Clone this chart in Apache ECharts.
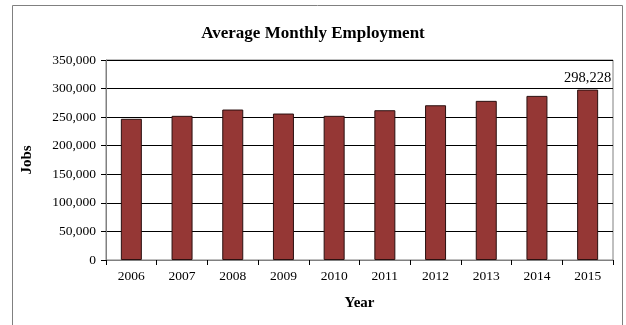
<!DOCTYPE html>
<html>
<head>
<meta charset="utf-8">
<script src="https://cdn.jsdelivr.net/npm/echarts@6/dist/echarts.min.js"></script>
<style>
  html, body { margin: 0; padding: 0; background: #fff; }
  #chart { width: 626px; height: 325px; }
</style>
</head>
<body>
<div id="chart"></div>
<script>
  // chart data
  const years = ['2006', '2007', '2008', '2009', '2010', '2011', '2012', '2013', '2014', '2015']
  const jobs = [247100, 252300, 263300, 256300, 252300, 262100, 270800, 278500, 287200, 298228]
  const yTicks = [0, 50000, 100000, 150000, 200000, 250000, 300000, 350000]

  const serif = '"Liberation Serif", "DejaVu Serif", serif'
  const fmt = v => v.toLocaleString('en-US')

  const chart = echarts.init(document.getElementById('chart'))
  chart.setOption({
    animation: false,
    textStyle: { fontFamily: serif },
    title: {
      text: 'Average Monthly Employment',
      left: 'center',
      top: 20,
      textStyle: { fontFamily: serif, fontSize: 17, fontWeight: 'bold', color: '#000' }
    },
    graphic: [{
      type: 'rect',
      shape: { x: 12.5, y: 5.5, width: 610, height: 330 },
      style: { fill: 'none', stroke: '#808080', lineWidth: 1 },
      z: -1
    }],
    grid: { left: 106, right: 13, top: 60, bottom: 65, show: true, borderColor: '#808080', borderWidth: 1 },
    xAxis: {
      type: 'category',
      data: years,
      name: 'Year',
      nameLocation: 'middle',
      nameGap: 36,
      nameTextStyle: { fontFamily: serif, fontSize: 15, fontWeight: 'bold', color: '#000' },
      axisLine: { lineStyle: { color: '#808080' } },
      axisTick: { show: true, length: 5, lineStyle: { color: '#000' } },
      axisLabel: { fontFamily: serif, fontSize: 13.5, color: '#000', margin: 9 }
    },
    yAxis: {
      type: 'value',
      min: yTicks[0],
      max: yTicks[yTicks.length - 1],
      interval: 50000,
      name: 'Jobs',
      nameLocation: 'middle',
      nameGap: 71,
      nameTextStyle: { fontFamily: serif, fontSize: 15, fontWeight: 'bold', color: '#000' },
      axisLine: { show: true, lineStyle: { color: '#808080' } },
      axisTick: { show: true, length: 5, lineStyle: { color: '#000' } },
      axisLabel: { fontFamily: serif, fontSize: 13.5, color: '#000', margin: 10, formatter: v => fmt(v) },
      splitLine: { lineStyle: { color: '#000', width: 1 } }
    },
    series: [{
      type: 'bar',
      data: jobs.map((v, i) => ({
        value: v,
        label: i === jobs.length - 1
          ? { show: true, position: 'top', distance: 4, formatter: p => fmt(p.value), fontFamily: serif, fontSize: 14.5, color: '#000' }
          : { show: false }
      })),
      barWidth: 21,
      itemStyle: { color: '#953735', borderColor: '#2b1010', borderWidth: 1 }
    }]
  })
</script>
</body>
</html>
